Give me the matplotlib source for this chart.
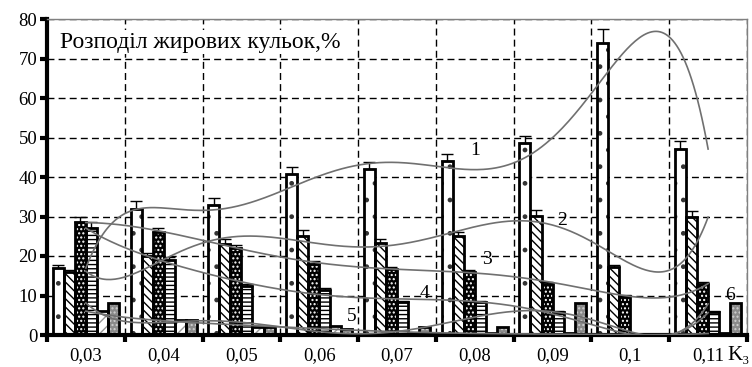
import numpy as np
import matplotlib
matplotlib.use("Agg")
import matplotlib.pyplot as plt

plt.rcParams['font.family'] = ['Liberation Serif', 'DejaVu Serif']
plt.rcParams['hatch.linewidth'] = 1.0
plt.rcParams['lines.scale_dashes'] = False

categories = ["0,03", "0,04", "0,05", "0,06", "0,07", "0,08", "0,09", "0,1", "0,11"]
s1 = [17.0, 32.0, 33.0, 40.8, 42.0, 44.0, 48.5, 73.8, 47.0]
s2 = [16.0, 20.0, 23.0, 25.0, 23.2, 25.0, 30.1, 17.1, 30.0]
s3 = [28.5, 26.0, 22.0, 18.0, 16.6, 16.0, 13.0, 9.9, 13.0]
s4 = [27.0, 19.0, 12.5, 11.5, 8.4, 8.4, 5.7, 0.0, 5.7]
s5 = [6.0, 3.8, 2.0, 2.3, 0.4, 0.4, 0.4, 0.0, 0.4]
s6 = [8.0, 3.8, 2.0, 1.6, 2.0, 2.0, 8.0, 0.0, 8.0]
e1 = [0.8, 1.8, 1.8, 1.8, 1.7, 1.9, 1.8, 3.6, 2.2]
e2 = [0.5, 0.7, 1.2, 1.5, 1.0, 1.0, 1.6, 0.7, 1.5]
e3 = [1.5, 1.0, 0.8, 0.8, 0.5, 0.5, 0.5, 0.3, 0.5]
e4 = [1.5, 0.8, 0.3, 0.3, 0.3, 0.3, 0.3, 0.0, 0.3]
curve_labels = ["1", "2", "3", "4", "5", "6"]
title = "Розподіл жирових кульок,%"
xname = "K₃"

series = [s1, s2, s3, s4, s5, s6]
errs = [e1, e2, e3, e4, None, None]
# face, hatch colour, hatch
styles = [
    ("white", "#333333", "."),
    ("white", "black", "\\\\\\\\"),
    ("black", "white", "...."),
    ("white", "black", "----"),
    ("white", "#999999", "///"),
    ("#8a8a8a", "#cfcfcf", "...."),
]

fig = plt.figure(figsize=(7.52, 3.67), dpi=100)
ax = fig.add_axes([47/752, 1-335/367, 700/752, (335-19)/367])

n = len(categories)
x = np.arange(1, n + 1)
bw = 0.142
offs = (np.arange(6) - 2.5) * bw

for k, (vals, (fc, hc, h)) in enumerate(zip(series, styles)):
    xs = x + offs[k]
    ax.bar(xs, vals, bw, color=fc, edgecolor=hc, hatch=h, linewidth=0, zorder=2)
    ax.bar(xs, vals, bw, fill=False, edgecolor="black", linewidth=2, zorder=3)
    if errs[k] is not None:
        ax.errorbar(xs, vals, yerr=[np.zeros(n), errs[k]], fmt="none", ecolor="black",
                    elinewidth=1, capsize=4, capthick=1, zorder=4)

# polynomial trend lines (order 6)
xx = np.linspace(1, n, 300)
for vals in series:
    c = np.polyfit(x, vals, 6)
    ax.plot(xx, np.polyval(c, xx), color="#707070", lw=1.2, zorder=5)

label_pos = [(6.0, 46.8), (7.12, 29.1), (6.16, 19.0), (5.36, 10.6), (4.42, 4.6), (9.28, 9.9)]
for lab, (lx, ly) in zip(curve_labels, label_pos):
    ax.text(lx, ly, lab, fontsize=14, ha="center", va="center", zorder=6)

ax.set_xlim(0.5, n + 0.5)
ax.set_ylim(0, 80)
ax.set_yticks(np.arange(0, 81, 10))
ax.set_xticks(x)
ax.set_xticklabels(categories)
ax.set_xticks(np.arange(0.5, n + 1, 1), minor=True)
ax.tick_params(axis="x", which="major", length=0, labelsize=13.5, pad=9)
ax.tick_params(axis="x", which="minor", length=5, width=3, direction="out")
ax.tick_params(axis="y", length=5, width=3, direction="out", labelsize=13.5, pad=2)

ax.grid(True, axis="y", which="major", color="black", lw=1, linestyle=(0, (5, 3)), zorder=1)
ax.grid(True, axis="x", which="minor", color="black", lw=1, linestyle=(0, (5, 3)), zorder=1)
ax.set_axisbelow(True)

for s in ["left", "bottom"]:
    ax.spines[s].set_linewidth(3)
for s in ["top", "right"]:
    ax.spines[s].set_linewidth(1)
    ax.spines[s].set_color("#808080")

ax.text(0.018, 0.96, title, transform=ax.transAxes, fontsize=17, ha="left", va="top", zorder=6,
        bbox=dict(facecolor="white", edgecolor="none", pad=1))
ax.text(9.25, -5.2, xname, fontsize=15, ha="left", va="center", clip_on=False)

fig.savefig("out.png", dpi=100)
